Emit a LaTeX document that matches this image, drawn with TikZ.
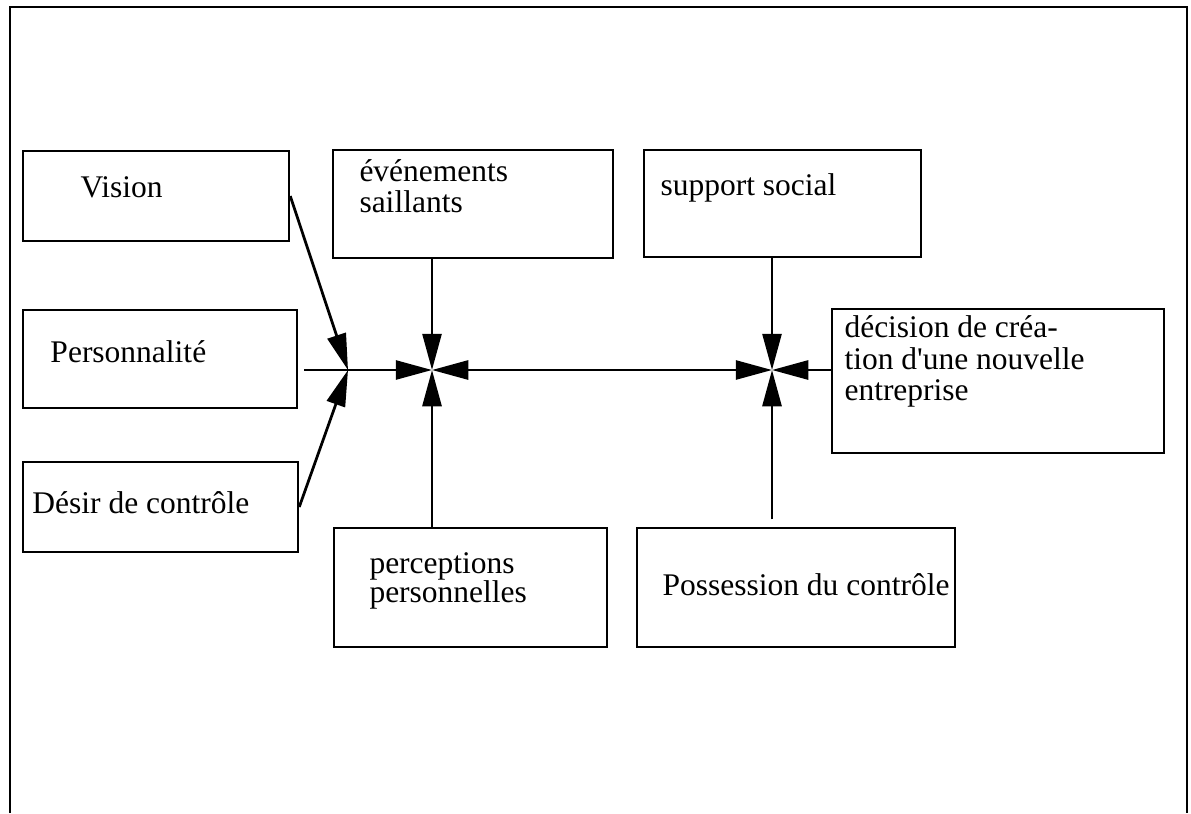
\documentclass[tikz,border=0pt]{standalone}
\usepackage{fontspec}
\setmainfont{Liberation Serif}[Ligatures=TeXOff]
\usetikzlibrary{arrows.meta}

% box given by its corners (x1,y1) and (x2,y2), in pixel units
\newcommand\boxnode[5]{%
  \node[box, minimum width={(#4-#2)*0.4pt}, minimum height={(#5-#3)*0.4pt}]
    (#1) at ({(#2+#4)/2},{(#3+#5)/2}) {};}

\begin{document}
\begin{tikzpicture}[x=0.4pt,y=-0.4pt,
  box/.style={draw, line width=1pt, inner sep=0pt, rectangle},
  lbl/.style={anchor=base west, inner sep=0pt, font=\fontsize{12.6}{12.4}\selectfont},
  conn/.style={line width=1.1pt},
  tipend/.style={-{Triangle[length=14.5pt,width=7.6pt]}},
  bothends/.style={{Triangle[length=14.5pt,width=7.6pt]}-{Triangle[length=14.5pt,width=7.6pt]}}]
\useasboundingbox (0,0) rectangle (1191,813);

% outer frame (open at the bottom)
\draw[line width=0.9pt] (10,813) -- (10,7) -- (1187,7) -- (1187,813);

% boxes
\boxnode{vision}{23}{151}{289}{241}
\boxnode{perso}{23}{310}{297}{408}
\boxnode{desir}{23}{462}{298}{552}
\boxnode{even}{333}{150}{613}{258}
\boxnode{support}{644}{150}{921}{257}
\boxnode{decis}{832}{309}{1164}{453}
\boxnode{percep}{334}{528}{607}{647}
\boxnode{poss}{637}{528}{955}{647}

% texts
\node[lbl] (t-vision) at (80,197) {Vision};
\node[lbl] (t-perso) at (50,362) {Personnalité};
\node[lbl] (t-desir) at (32,513) {Désir de contrôle};
\node[lbl] (t-even1) at (359,181) {événements};
\node[lbl] (t-even2) at (359,212) {saillants};
\node[lbl] (t-support) at (660,195) {support social};
\node[lbl] (t-decis1) at (844,337) {décision de créa-};
\node[lbl] (t-decis2) at (844,369) {tion d'une nouvelle};
\node[lbl] (t-decis3) at (844,400) {entreprise};
\node[lbl] (t-percep1) at (369,573) {perceptions};
\node[lbl] (t-percep2) at (369,602) {personnelles};
\node[lbl] (t-poss) at (662,595) {Possession du contrôle};

% junction points
\coordinate (j0) at (348,370);
\coordinate (j1) at (432,370);
\coordinate (j2) at (772,370);

% connectors
\draw[conn,tipend] (vision.east) -- (j0);
\draw[conn,tipend] (desir.east) -- (j0);
\draw[conn,tipend,shorten <=2.4pt] (perso.east |- j0) -- (j1);
\draw[conn,tipend] (j1 |- even.south) -- (j1);
\draw[conn,tipend] (j1 |- percep.north) -- (j1);
\draw[conn,bothends] (j1) -- (j2);
\draw[conn,tipend] (j2 |- support.south) -- (j2);
\draw[conn,tipend,shorten <=3pt] (j2 |- poss.north) -- (j2);
\draw[conn,tipend] (decis.west |- j2) -- (j2);
\end{tikzpicture}
\end{document}
